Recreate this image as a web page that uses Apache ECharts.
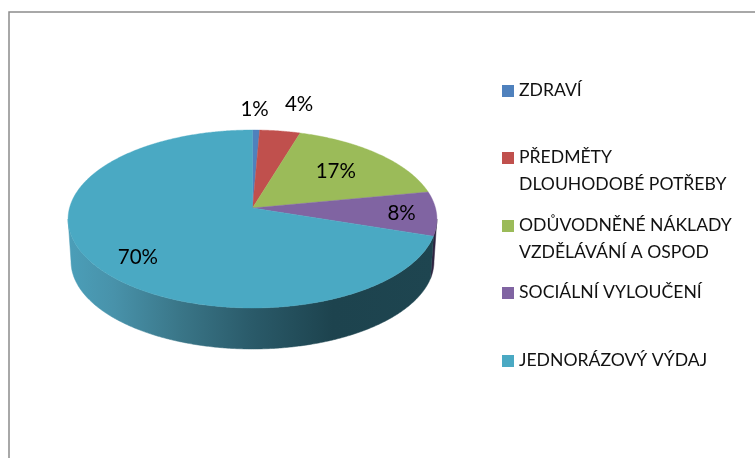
<!DOCTYPE html>
<html><head><meta charset="utf-8">
<style>html,body{margin:0;padding:0;background:#fff}#c{width:755px;height:458px}</style>
<script src="https://cdn.jsdelivr.net/npm/echarts@6/dist/echarts.min.js"></script>
</head><body><div id="c"></div>
<script>
// data
const categories = ['ZDRAVÍ', 'PŘEDMĚTY\nDLOUHODOBÉ POTŘEBY', 'ODŮVODNĚNÉ NÁKLADY\nVZDĚLÁVÁNÍ A OSPOD', 'SOCIÁLNÍ VYLOUČENÍ', 'JEDNORÁZOVÝ VÝDAJ'];
const values = [0.7, 4.0, 17.3, 8.0, 70.0];
const colors = ['#4F81BD', '#C0504D', '#9BBB59', '#8064A2', '#4AA9C3'];

// layout
const apex = {x: 252.5, y: 208}, A = 183, B = 87.64, E = 0.1236;
const bottom = {y: 250.6, scale: 0.984};
const labelOffsets = [[-1.5, -21], [19, -27], [-42.5, 17], [-35, -0.5], [45, -6]];
const legendRowY = [91, 158, 226, 293, 361];
const FONT = 'Lato';
const total = values.reduce((a, b) => a + b, 0);
const startDeg = values.map((v, i) => values.slice(0, i).reduce((a, b) => a + b, 0) / total * 360);
const rad = d => d * Math.PI / 180;
function proj(deg, r, o) {
  const p = Math.sin(rad(deg)) * (r || 1), q = Math.cos(rad(deg)) * (r || 1), k = 1 + E * q;
  const c = o || {y: apex.y, scale: 1};
  return [apex.x + c.scale * A * p / k, c.y - c.scale * B * q / k];
}
function arc(a, b, o) { const n = Math.max(2, Math.ceil((b - a) * 2)), pts = [];
  for (let i = 0; i <= n; i++) pts.push(proj(a + (b - a) * i / n, 1, o)); return pts; }
const FRONT = [Math.acos(-E) * 180 / Math.PI, 360 - Math.acos(-E) * 180 / Math.PI];
const sideFill = {
  4: {type: 'linear', global: true, x: 70, y: 0, x2: 435, y2: 0, colorStops: [
    {offset: 0, color: '#4B9EB8'}, {offset: 0.12, color: '#4892AA'}, {offset: 0.3, color: '#3A7688'},
    {offset: 0.5, color: '#2A5A69'}, {offset: 0.72, color: '#1D434E'}, {offset: 1, color: '#1E4550'}]},
  3: '#2E2440'
};

function renderSide(params) {
  const i = params.dataIndex, a = Math.max(startDeg[i], FRONT[0]), b = Math.min(startDeg[i] + values[i] / total * 360, FRONT[1]);
  if (b <= a || !sideFill[i]) return null;
  return {type: 'polygon', shape: {points: arc(a, b).concat(arc(a, b, bottom).reverse())},
    style: {fill: sideFill[i], stroke: sideFill[i], lineWidth: 0.5}};
}
function renderTop(params) {
  const i = params.dataIndex, a = startDeg[i], b = a + values[i] / total * 360;
  const edge = proj((a + b) / 2);
  return {type: 'group', children: [
    {type: 'polygon', shape: {points: [[apex.x, apex.y]].concat(arc(a, b))},
      style: {fill: colors[i], stroke: colors[i], lineWidth: 0.4}},
    {type: 'text', z2: 10, style: {x: edge[0] + labelOffsets[i][0], y: edge[1] + labelOffsets[i][1],
      text: Math.round(values[i] / total * 100) + '%', fill: '#000', font: '20.5px ' + FONT, align: 'center', verticalAlign: 'middle'}}
  ]};
}
function renderLegend(params) {
  const i = params.dataIndex, y = legendRowY[i];
  const lines = categories[i].split('\n');
  return {type: 'group', children: [
    {type: 'rect', shape: {x: 502, y: y - 6, width: 12, height: 12}, style: {fill: colors[i]}}
  ].concat(lines.map((t, j) => ({type: 'text', style: {x: 519, y: y - 1 + j * 27, text: t, fill: '#111',
    font: '17.6px ' + FONT, align: 'left', verticalAlign: 'middle'}})))};
}
const chart = echarts.init(document.getElementById('c'), null, {renderer: 'canvas'});
const seriesData = values.map((v, i) => ({name: categories[i], value: v}));
chart.setOption({
  animation: false, backgroundColor: '#fff',
  graphic: [{type: 'polyline', shape: {points: [[9, 458], [9, 12], [755, 12]]}, style: {stroke: '#8c8c8c', lineWidth: 1.5, fill: 'none'}}],
  series: [
    {type: 'custom', coordinateSystem: 'none', z: 2, renderItem: renderSide, data: seriesData},
    {type: 'custom', coordinateSystem: 'none', z: 3, renderItem: renderTop, data: seriesData},
    {type: 'custom', coordinateSystem: 'none', z: 4, renderItem: renderLegend, data: seriesData}
  ]
});
</script></body></html>
